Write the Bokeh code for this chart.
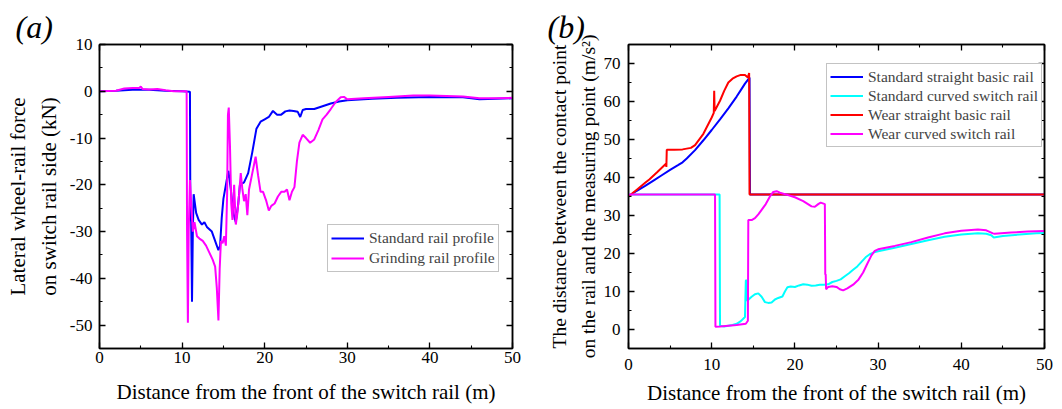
from bokeh.plotting import figure
from bokeh.layouts import row
from bokeh.models import (Range1d, LinearAxis, SingleIntervalTicker, Label, Legend, LegendItem,
                          NumeralTickFormatter)
from bokeh.embed import file_html
from bokeh.resources import INLINE

FONT = "Liberation Serif"

# ---------------- Panel (a) data ----------------
a_std_x = [0, 2, 4, 6, 8, 10, 10.95, 11.0, 11.1, 11.2, 11.3, 11.4, 11.7, 12.0, 12.4, 12.7, 13.0, 13.3,
           13.6, 13.9, 14.2, 14.4, 14.6, 14.8, 15.0, 15.3, 15.6, 15.9, 16.2, 16.5, 16.8, 17.0, 17.5,
           18.0, 18.5, 19.0, 19.5, 20.0, 20.5, 21.0, 21.5, 22.0, 22.5, 23.0, 23.5, 24.0, 24.3, 24.6,
           25.0, 26.0, 27.0, 28.0, 29.0, 30.0, 33, 36, 40, 44, 46, 48, 50]
a_std_y = [0, 0.1, 0.3, 0.3, 0.1, 0, -0.1, -26, -28, -45, -30, -22, -26, -27.5, -28.5, -28, -29, -29.5,
           -30, -31.5, -33, -34, -33, -27, -23, -20, -17, -21, -26, -28, -24, -20, -19.5,
           -17.5, -13, -8, -6.5, -6, -5.5, -4.2, -5, -5, -4.3, -4.1, -4.2, -4.4, -5.5, -4,
           -3.8, -3.8, -3.2, -2.6, -2.2, -1.9, -1.6, -1.4, -1.2, -1.3, -1.7, -1.6, -1.5]

a_grd_x = [0, 2, 3, 4, 4.8, 5, 5.2, 6, 7, 8, 9, 10.55, 10.6, 10.7, 10.8, 10.95, 11.1, 11.3, 11.5, 11.8,
           12.1, 12.5, 12.9, 13.3, 13.7, 14.0, 14.2, 14.4, 14.55, 14.7, 14.9, 15.1, 15.3, 15.45, 15.55,
           15.65, 15.8, 15.95, 16.1, 16.3, 16.5, 16.7, 16.9, 17.1, 17.3, 17.5, 17.7, 17.9, 18.1, 18.5,
           18.9, 19.2, 19.5, 19.8, 20.2, 20.5, 20.8, 21.2, 21.6, 22.0, 22.4, 22.7, 23.0, 23.3, 23.6,
           23.9, 24.2, 24.6, 25.0, 25.5, 26.0, 26.5, 27.0, 27.5, 28.0, 28.6, 29.2, 29.6, 30.0, 32, 35,
           38, 40, 44, 46, 48, 50]
a_grd_y = [0, 0.1, 0.6, 0.7, 0.7, 1.0, 0.5, 0.4, 0.5, 0.2, 0, 0, -30, -49.5, -30, -19, -24, -30, -28, -31,
           -31.5, -32, -33, -34.5, -36, -37.5, -42, -49, -38, -32, -32.5, -31, -33, -22, -5,
           -3.5, -12, -24, -27.5, -20, -28.5, -26, -22, -17.5, -21, -23.5, -22, -26.5, -21, -17.5,
           -14, -18, -21.5, -21.5, -23.5, -25.5, -24.5, -24, -22.5, -21.5, -21.5, -21, -23.3, -21.5, -20.5,
           -15, -11, -9.3, -10, -11, -10.3, -8.3, -6, -5, -3.8, -2.3, -1.3, -1.2, -1.7, -1.5, -1.2,
           -0.9, -0.9, -1.1, -1.5, -1.5, -1.4]

# ---------------- Panel (b) data ----------------
b_ssb_x = [0, 1, 2, 3, 4, 5, 6, 6.5, 7, 8, 9, 10, 11, 12, 13, 13.5, 14, 14.55, 14.6, 50]
b_ssb_y = [35, 36.5, 37.8, 39.2, 40.6, 42, 43.3, 44, 45, 47.2, 49.8, 52.5, 55.3, 58.2, 61.3, 63, 64.7, 66.3, 35.5, 35.5]

b_scs_x = [0, 10.95, 11.0, 11.5, 12, 12.5, 13, 13.5, 14.0, 14.1, 14.2, 14.25, 14.5, 14.8, 15.2, 15.6, 16.0,
           16.4, 16.8, 17.2, 17.6, 18, 18.5, 18.8, 19.1, 19.5, 20, 20.5, 21, 21.5, 22, 22.5, 23, 23.5, 24,
           24.5, 25, 25.5, 26, 26.5, 27, 27.5, 28, 28.5, 29, 29.5, 30, 32, 34, 36, 38, 40, 42, 43, 43.6,
           43.9, 45, 47, 49, 50]
b_scs_y = [35.5, 35.5, 1.0, 0.8, 1.0, 1.2, 1.5, 2.2, 3.3, 12.8, 13.0, 7.5, 8, 8.6, 9.3, 9.5, 8.6,
           7.2, 7, 7.1, 7.9, 8.3, 8.7, 10, 11.1, 11.3, 11.2, 11.6, 11.9, 11.8, 11.5, 11.6, 11.8, 11.8, 11.9,
           12.5, 12.8, 13.2, 14, 14.8, 15.7, 16.6, 17.8, 19, 19.8, 20.3, 20.6, 21.5, 22.5, 23.5, 24.4, 25, 25.3, 25.2, 24.8,
           24.2, 24.6, 25, 25.3, 25.4]

b_wsb_x = [0, 1, 2, 2.5, 3.5, 4.5, 4.55, 4.6, 5.5, 6.5, 7.5, 8, 9, 10, 10.25, 10.3, 10.35, 11, 11.5, 12,
           12.5, 13, 13.5, 14, 14.35, 14.5, 14.55, 50]
b_wsb_y = [35, 36.8, 38.6, 39.5, 41.5, 43.6, 42.8, 47.3, 47.3, 47.4, 47.8, 48.5, 51.5, 55.8, 57, 62.8, 57.5, 60.2, 62.8, 65,
           66, 66.6, 67, 67, 66.3, 67.5, 35.5, 35.5]

b_wcs_x = [0, 10.4, 10.45, 11, 12, 13, 14.1, 14.35, 14.4, 14.8, 15.2, 15.6, 16.0, 16.5, 17, 17.4, 17.8, 18.2,
           19, 20, 21, 22, 22.4, 22.8, 23.1, 23.6, 23.65, 23.7, 23.75, 24, 24.5, 25, 25.4, 25.8, 26.3, 27,
           27.6, 28.2, 28.7, 29.2, 29.6, 30, 32, 34, 36, 38, 40, 42, 43, 43.8, 44, 46, 48, 50]
b_wcs_y = [35.5, 35.5, 0.7, 0.8, 1.0, 1.2, 1.5, 2.3, 28.8, 28.8, 29.3, 30.3, 31.5, 33, 35, 36.2, 36.4, 36,
           35.5, 34.8, 33.8, 32.4, 32.3, 33, 33.4, 33, 14.5, 14.5, 10.6, 11.2, 11.4, 11.2, 10.6, 10.3, 10.8, 11.8,
           13, 15, 17.3, 19.5, 20.7, 21.1, 22, 23, 24.2, 25.3, 26, 26.3, 26.1, 25.3, 25.2, 25.5, 25.8, 25.9]

x_label = "Distance from the front of the switch rail (m)"
a_ylabel = "Lateral wheel-rail force\non switch rail side (kN)"
b_ylabel = "The distance between the contact point\non the rail and the measuring point (m/s\u00b2)"
a_legend = ["Standard rail profile", "Grinding rail profile"]
b_legend = ["Standard straight basic rail", "Standard curved switch rail",
            "Wear straight basic rail", "Wear curved switch rail"]


def style_axis(ax, show_labels=True):
    ax.axis_line_color = "black"
    ax.axis_line_width = 1.5
    ax.major_tick_in = 6
    ax.major_tick_out = 0
    ax.minor_tick_in = 3
    ax.minor_tick_out = 0
    ax.major_tick_line_color = "black"
    ax.minor_tick_line_color = "black"
    ax.major_tick_line_width = 1.3
    ax.minor_tick_line_width = 1.1
    ax.major_label_text_font = FONT
    ax.major_label_text_font_size = "17px"
    ax.major_label_text_color = "black"
    ax.major_label_standoff = 5
    ax.axis_label_text_font = FONT
    ax.axis_label_text_font_style = "normal"
    ax.axis_label_text_color = "black"
    ax.formatter = NumeralTickFormatter(format="0")
    if not show_labels:
        ax.major_label_text_font_size = "0px"
        ax.major_label_standoff = 0


def make_fig(w, h, xr, yr, borders):
    p = figure(width=w, height=h, x_range=Range1d(*xr), y_range=Range1d(*yr),
               output_backend="svg", toolbar_location=None,
               min_border_left=borders[0], min_border_right=borders[1],
               min_border_top=borders[2], min_border_bottom=borders[3])
    p.xgrid.visible = False
    p.ygrid.visible = False
    p.outline_line_color = "black"
    p.outline_line_width = 1.5
    p.background_fill_color = "white"
    p.border_fill_color = "white"
    bottom = p.xaxis[0]
    left = p.yaxis[0]
    bottom.ticker = SingleIntervalTicker(interval=10, num_minor_ticks=2)
    left.ticker = SingleIntervalTicker(interval=10, num_minor_ticks=2)
    style_axis(bottom)
    style_axis(left)
    top = LinearAxis(ticker=SingleIntervalTicker(interval=10, num_minor_ticks=2))
    right = LinearAxis(ticker=SingleIntervalTicker(interval=10, num_minor_ticks=2))
    style_axis(top, False)
    style_axis(right, False)
    p.add_layout(top, "above")
    p.add_layout(right, "right")
    return p, bottom, left


def style_legend(leg, size, row_h):
    leg.label_text_font = FONT
    leg.label_text_font_size = size
    leg.label_height = row_h
    leg.glyph_height = row_h
    leg.glyph_width = 33
    leg.label_standoff = 5
    leg.spacing = 0
    leg.padding = 3
    leg.margin = 0
    leg.border_line_color = "#888888"
    leg.border_line_width = 1
    leg.background_fill_alpha = 1


H = 408
TOP = 44
BOT = 60

# ---------- Figure (a) ----------
pa, ax_a, ay_a = make_fig(530, H, (0, 50), (-55, 10), (99, 18, TOP, BOT))
ax_a.axis_label = x_label
ax_a.axis_label_text_font_size = "21px"
ax_a.axis_label_standoff = 14
ax_a.major_label_standoff = 3
ay_a.axis_label = a_ylabel
ay_a.axis_label_text_font_size = "21px"
ay_a.axis_label_text_line_height = 1.3
ay_a.axis_label_standoff = 6
ay_a.major_label_standoff = 7
ra1 = pa.line(a_std_x, a_std_y, line_color="#0000FF", line_width=2)
ra2 = pa.line(a_grd_x, a_grd_y, line_color="#FF00FF", line_width=2)
leg_a = Legend(items=[LegendItem(label=a_legend[0], renderers=[ra1]),
                      LegendItem(label=a_legend[1], renderers=[ra2])],
               location=(228, 76))
style_legend(leg_a, "15.5px", 20)
pa.add_layout(leg_a)
pa.add_layout(Label(x=-84, y=18, x_units="screen", y_units="screen", text="(a)",
                    text_font=FONT, text_font_style="italic", text_font_size="32px",
                    text_baseline="middle", text_align="left", text_color="black"), "above")

# ---------- Figure (b) ----------
pb, ax_b, ay_b = make_fig(531, H, (0, 50), (-5, 75), (98, 17, TOP, BOT))
ax_b.axis_label = x_label
ax_b.axis_label_text_font_size = "21px"
ax_b.axis_label_standoff = 8
ax_b.major_label_standoff = 10
ay_b.axis_label = b_ylabel
ay_b.axis_label_text_font_size = "19.5px"
ay_b.axis_label_text_line_height = 1.38
ay_b.axis_label_standoff = 2
ay_b.major_label_standoff = 8
rb1 = pb.line(b_ssb_x, b_ssb_y, line_color="#0000FF", line_width=2)
rb2 = pb.line(b_scs_x, b_scs_y, line_color="#00FFFF", line_width=2)
rb3 = pb.line(b_wsb_x, b_wsb_y, line_color="#FF0000", line_width=2)
rb4 = pb.line(b_wcs_x, b_wcs_y, line_color="#FF00FF", line_width=2)
leg_b = Legend(items=[LegendItem(label=b_legend[i], renderers=[r]) for i, r in enumerate([rb1, rb2, rb3, rb4])],
               location=(198, 201))
style_legend(leg_b, "15.5px", 19)
pb.add_layout(leg_b)
pb.add_layout(Label(x=-81, y=18, x_units="screen", y_units="screen", text="(b)",
                    text_font=FONT, text_font_style="italic", text_font_size="32px",
                    text_baseline="middle", text_align="left", text_color="black"), "above")

layout = row(pa, pb)
open("out.html", "w").write(file_html(layout, INLINE))
